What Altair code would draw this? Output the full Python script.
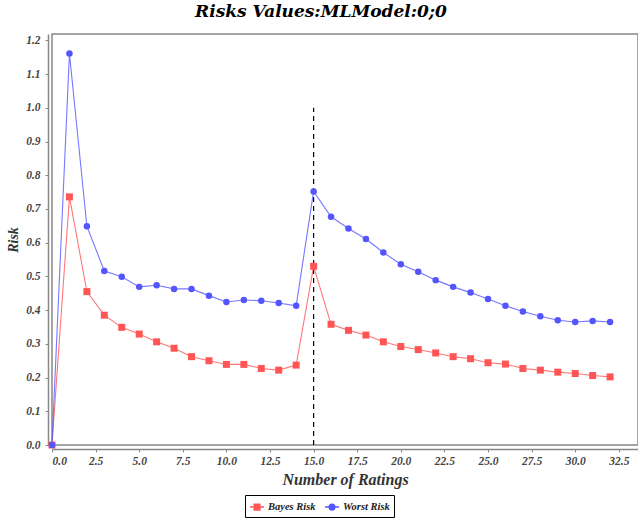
import altair as alt
import pandas as pd

# Number of ratings (x) and the two risk series
ratings = list(range(33))
bayes_risk = [0.0, 0.736, 0.455, 0.385, 0.349, 0.329, 0.306, 0.287, 0.262, 0.250,
              0.239, 0.239, 0.227, 0.222, 0.237, 0.530, 0.358, 0.340, 0.326, 0.306,
              0.292, 0.283, 0.273, 0.262, 0.256, 0.244, 0.240, 0.227, 0.222, 0.216,
              0.212, 0.206, 0.202]
worst_risk = [0.0, 1.161, 0.649, 0.516, 0.499, 0.469, 0.474, 0.463, 0.463, 0.443,
              0.424, 0.430, 0.428, 0.421, 0.413, 0.752, 0.677, 0.642, 0.611, 0.571,
              0.536, 0.514, 0.489, 0.469, 0.452, 0.433, 0.413, 0.396, 0.382, 0.370,
              0.365, 0.368, 0.365]
series_names = ["Bayes Risk", "Worst Risk"]
series_colors = ["#FF5555", "#5555FF"]

# Marker at the change point
marker_x = [15.0]
marker_top = [1.0]

rows = []
for name, vals in zip(series_names, [bayes_risk, worst_risk]):
    for x, v in zip(ratings, vals):
        rows.append({"ratings": x, "risk": v, "series": name})
df = pd.DataFrame(rows)
marker_df = pd.DataFrame({"x": marker_x, "y0": [0.0], "y1": marker_top})

FONT = "Liberation Serif"
TITLE_FONT = "DejaVu Serif"

x_scale = alt.Scale(domain=[0, 33.6], nice=False, zero=False)
y_scale = alt.Scale(domain=[0, 1.219], nice=False, zero=False)
color_scale = alt.Scale(domain=series_names, range=series_colors)

# Legend glyphs: a short line with the series marker on it
legend_glyphs = [
    "M-1,0H1M-0.4,-0.4H0.4V0.4H-0.4Z",
    "M-1,0H1M0.4,0A0.4,0.4 0 1,1 -0.4,0A0.4,0.4 0 1,1 0.4,0Z",
]

legend = alt.Legend(
    title=None,
    orient="none",
    direction="horizontal",
    legendX=193,
    legendY=461,
    columns=2,
    strokeColor="black",
    padding=4,
    symbolSize=196,
    symbolStrokeWidth=1.5,
    columnPadding=6,
    labelFont=FONT,
    labelFontStyle="italic",
    labelFontWeight="bold",
    labelFontSize=10.5,
    labelColor="#222",
    labelOffset=3,
)

x_axis = alt.Axis(
    title="Number of Ratings",
    values=[0, 2.5, 5, 7.5, 10, 12.5, 15, 17.5, 20, 22.5, 25, 27.5, 30, 32.5],
    format=".1f",
    offset=4,
    grid=False,
    tickSize=3,
    labelPadding=3,
    titlePadding=5,
)
y_axis = alt.Axis(
    title="Risk",
    values=[0, 0.1, 0.2, 0.3, 0.4, 0.5, 0.6, 0.7, 0.8, 0.9, 1.0, 1.1, 1.2],
    format=".1f",
    offset=4,
    grid=False,
    tickSize=3,
    labelPadding=5,
    titlePadding=5,
)

marker = alt.Chart(marker_df).mark_rule(
    color="black", strokeDash=[5, 4], strokeWidth=1.2
).encode(
    x=alt.X("x:Q", scale=x_scale, axis=x_axis),
    y=alt.Y("y0:Q", scale=y_scale, axis=y_axis),
    y2="y1:Q",
)

base = alt.Chart(df).encode(
    x=alt.X("ratings:Q", scale=x_scale, axis=x_axis),
    y=alt.Y("risk:Q", scale=y_scale, axis=y_axis),
    color=alt.Color("series:N", scale=color_scale, legend=None),
)

lines = base.mark_line(strokeWidth=1.1, opacity=0.8)
points = base.mark_point(filled=True, opacity=1).encode(
    shape=alt.Shape(
        "series:N",
        scale=alt.Scale(domain=series_names, range=["square", "circle"]),
        legend=None,
    ),
    size=alt.Size(
        "series:N",
        scale=alt.Scale(domain=series_names, range=[49, 42]),
        legend=None,
    ),
)

# Legend-only layer (no rows drawn): line + marker glyph per series
key = alt.Chart(df).transform_filter("false").mark_point(
    opacity=1, strokeWidth=1.5
).encode(
    x=alt.X("ratings:Q", scale=x_scale, axis=x_axis),
    y=alt.Y("risk:Q", scale=y_scale, axis=y_axis),
    fill=alt.Fill("series:N", scale=color_scale, legend=legend),
    stroke=alt.Stroke("series:N", scale=color_scale, legend=legend),
    shape=alt.Shape(
        "series:N",
        scale=alt.Scale(domain=series_names, range=legend_glyphs),
        legend=legend,
    ),
)

chart = (
    alt.layer(marker, lines, points, key)
    .resolve_scale(shape="independent", fill="independent", stroke="independent")
    .properties(
        width=586,
        height=411,
        autosize=alt.AutoSizeParams(type="none"),
        padding={"left": 52, "top": 34, "right": 0, "bottom": 74},
        title=alt.TitleParams(
            "Risks Values:MLModel:0;0",
            anchor="middle",
            dx=-24,
            offset=13,
            font=TITLE_FONT,
            fontSize=17,
            fontStyle="italic",
            fontWeight="bold",
            color="black",
        ),
        background="white",
    )
    .configure_view(stroke="#888888", strokeWidth=1.5)
    .configure_axis(
        domainColor="#888888",
        domainWidth=1.5,
        tickColor="#888888",
        labelFont=FONT,
        labelFontStyle="italic",
        labelFontWeight="bold",
        labelFontSize=11.5,
        labelColor="#444444",
        titleFont=FONT,
        titleFontStyle="italic",
        titleFontWeight="bold",
        titleColor="#333333",
    )
    .configure_axisX(titleFontSize=16)
    .configure_axisY(titleFontSize=14)
)

chart.save("out.html", embed_options={"renderer": "svg", "actions": False})
